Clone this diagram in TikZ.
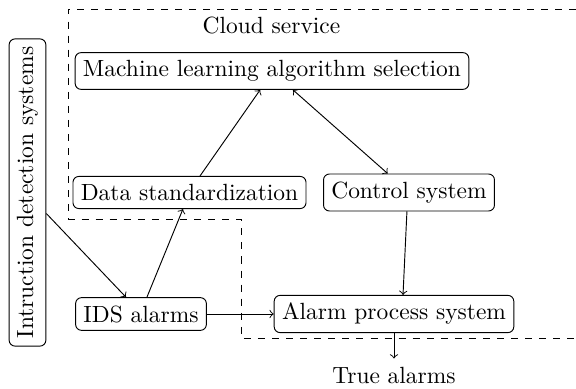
\documentclass[tikz,border=0pt]{standalone}
\usetikzlibrary{calc}
\begin{document}
\begin{tikzpicture}[x=0.4265pt,y=-0.4265pt,
  box/.style={draw,rounded corners=2.5pt,inner sep=3.33pt},
  conn/.style={->}]
\useasboundingbox (0,0) rectangle (576,389);
\draw[dashed] (576,9) -- (68,9) -- (68,219) -- (241,219) -- (241,338) -- (576,338);
\node (cloud) at (271.5,25) {Cloud service};
\node[box] (ml) at (272,71) {Machine learning algorithm selection};
\node[box] (data) at (189.5,192.5) {Data standardization};
\node[box] (ctrl) at (409,192.5) {Control system};
\node[box] (ids) at (141,314) {IDS alarms};
\node[box] (alarm) at (394,314) {Alarm process system};
\node[box,rotate=90] (intr) at (27.5,192.5) {Intruction detection systems};
\node (true) at (394,375) {True alarms};
\draw[conn] ($(ids.north west)!0.545!(ids.north east)$) -- ($(data.south west)!0.472!(data.south east)$);
\draw[conn] ($(data.north west)!0.545!(data.north east)$) -- ($(ml.south west)!0.47!(ml.south east)$);
\draw[<->] ($(ml.south west)!0.553!(ml.south east)$) -- ($(ctrl.north west)!0.376!(ctrl.north east)$);
\draw[conn] ($(ctrl.south west)!0.488!(ctrl.south east)$) -- ($(alarm.north west)!0.5375!(alarm.north east)$);
\draw[conn] (ids.east) -- (alarm.west);
\draw[conn] (alarm.south) -- (true.north);
\draw[conn] ($(intr.south)+(0,21)$) -- ($(ids.north west)!0.386!(ids.north east)$);
\end{tikzpicture}
\end{document}
